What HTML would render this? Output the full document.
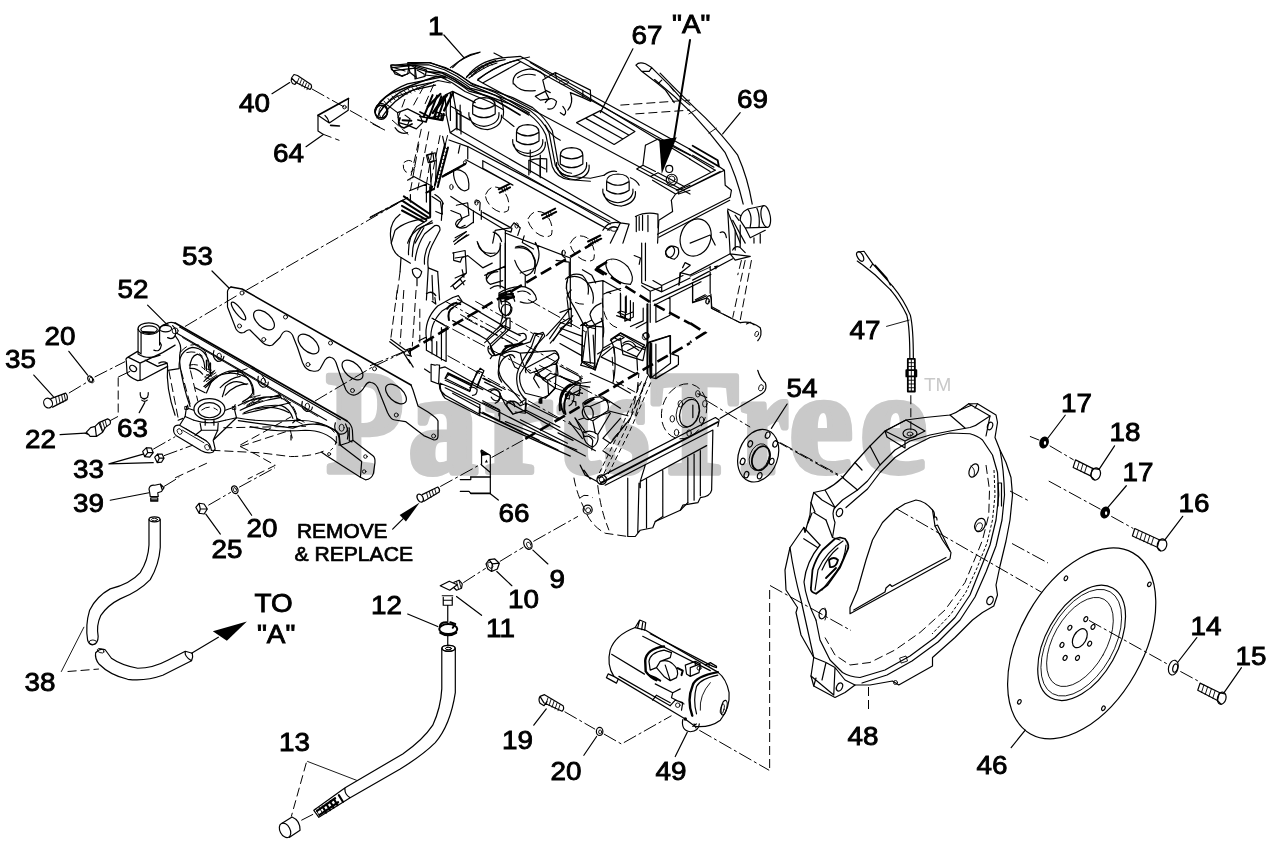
<!DOCTYPE html>
<html><head><meta charset="utf-8"><title>Engine parts diagram</title>
<style>
html,body{margin:0;padding:0;background:#fff;}
body{width:1280px;height:851px;overflow:hidden;}
svg{display:block;}
svg *{vector-effect:non-scaling-stroke;}
.lbl{font-family:"Liberation Sans",sans-serif;font-size:26.4px;fill:#000;stroke:#000;stroke-width:0.9px;}
.note{font-family:"Liberation Sans",sans-serif;font-size:20.5px;fill:#000;stroke:#000;stroke-width:0.7px;}
.wm{font-family:"Liberation Serif",serif;font-weight:bold;font-size:154px;fill:#c9c9c9;stroke:#c9c9c9;stroke-width:6px;stroke-linejoin:round;}
.tm{font-family:"Liberation Sans",sans-serif;font-size:19px;fill:#c9c9c9;}
.l{vector-effect:non-scaling-stroke;fill:none;stroke:#000;stroke-width:1.2;stroke-linecap:round;stroke-linejoin:round;}
.t{vector-effect:non-scaling-stroke;fill:none;stroke:#000;stroke-width:0.9;stroke-linecap:round;stroke-linejoin:round;}
.w{vector-effect:non-scaling-stroke;fill:#fff;stroke:#000;stroke-width:1.2;stroke-linejoin:round;}
.d{vector-effect:non-scaling-stroke;fill:none;stroke:#000;stroke-width:1;stroke-dasharray:14 3 3 3;}
.dd{vector-effect:non-scaling-stroke;fill:none;stroke:#000;stroke-width:1;stroke-dasharray:9 4;}
.hd{vector-effect:non-scaling-stroke;fill:none;stroke:#000;stroke-width:2.6;stroke-dasharray:12 5;}
.k{fill:#000;stroke:none;}
</style></head>
<body>
<svg width="1280" height="851" viewBox="0 0 1280 851">
<rect width="1280" height="851" fill="#fff"/>
<!-- ENGINE detail A: harness cluster (real coords) -->
<g id="EA">
<path class="l" d="M407.700,62.600 L429,62.600 L445.400,67.600 L458,74 L470.600,82.700 L483,87.700 L495.700,92.800 L508.300,100.300 L529.600,112.900"/>
<path class="l" d="M408,64.800 L428.500,64.800 L444.500,69.800 L457,76.200 L469.600,84.900 L482,89.900 L494.700,95 L507.300,102.500 L528.600,115.100"/>
<path class="l" style="stroke-width:1.600" d="M426,71.500 L442,73 L454.500,79.500 L467,88 L480,93.500 L492,98.500 L505,106 L520,115"/>
<path class="l" d="M424,75 L440,76.500 L452.500,83 L465,91.500 L478,97 L490,102 L503,109.500"/>
<path class="l" style="stroke-width:1.600" d="M375,112 Q378,100 392,93 L420.300,82 L436,76.500 L446,78"/>
<path class="l" d="M377,118 Q382,104 396,97 L422,86.500 L438,80.500 L450.400,83"/>
<path class="t" d="M384,101 l3,4 M388,98.500 l3,4 M392,96 l3,4 M396,94 l3,4 M400,92 l3,4 M404,90.500 l3,4 M408,89 l3,4 M412,87.500 l3,4 M416,86 l3,4"/>
<circle class="l" style="stroke-width:1.600" cx="381.300" cy="111.600" r="6.300"/>
<path class="l" style="stroke-width:2.400" d="M427.800,106.600 L440.400,94 M432.900,112.900 L444.200,96.500 M444.200,110.400 L453,92.800 M437,108 L447,95"/>
<path class="l" d="M390.700,65 L409,65.700 L407.700,74 L401.400,75.800 L391.400,69.500 Z M415,66.400 L426.600,70 L425,76.400 L415,79 Z M392,67 L405,71 M417,70 L424,74"/>
<path class="l" style="stroke-width:1.800" d="M400,118 Q396,126 404,128 L412,124 M420,112 L428,116 L426,122 L418,120 M436,112 l6,2 l-1,6 l-6,-2 z"/>
<path class="l" d="M450.400,92.800 V120.400 M450.400,106 L461,112 V134 M457,109.500 V130"/>
<path class="l" d="M450.400,67.600 Q463,57 479.400,52.500 M466.800,76.400 Q483.100,63.900 495.700,60.700 M478.100,78.900 Q503.200,61.300 529.600,57 M469,78 Q485,66 497,63"/>
<path class="t" d="M470,73 l2,3 M474,70 l2,3 M478,67.500 l2,3 M482,65.500 l2,3 M486,63.500 l2,3 M490,62 l2,3"/>
<path class="dd" d="M424,86 L412,108 M434,84 L425,104 M405,99 L398,118 M392,120 L410,136"/>
</g>
<!-- ENGINE detail B tile [370,140,610,300] zoom 1276 -->
<g id="EB" transform="translate(370,140) scale(0.188)">
<path class="l" d="M520,35 L1276,432 M600,110 L1220,450 L1276,480 M510,105 L760,240 M600,110 V150 L760,240 M845,110 V185 M905,105 V190 M940,100 V170 M845,110 Q880,95 940,100"/>
<path class="l" d="M445,160 Q470,150 505,175 Q530,200 525,260 Q500,285 470,250 Q440,210 445,160"/>
<path class="dd" d="M615,290 Q640,230 700,260 Q750,310 735,375 Q700,400 650,360 Q610,320 615,290 M840,420 Q870,360 930,390 Q980,440 965,505 Q930,530 880,490 Q840,450 840,420 M1065,550 Q1095,490 1155,520 Q1205,570 1190,635 Q1155,660 1105,620 Q1065,580 1065,550"/>
<path class="l" style="stroke-width:2" d="M400,185 L470,150 M685,262 L740,235 M690,280 L745,252 M915,400 L985,365 M920,418 L990,382 M1160,540 L1225,508 M1165,558 L1230,525"/>
<path class="t" d="M700,255 l8,22 M712,250 l8,22 M724,244 l8,22 M935,392 l8,22 M947,386 l8,22 M959,380 l8,22 M1180,532 l8,22 M1192,526 l8,22 M1204,520 l8,22"/>
<ellipse class="t" cx="433" cy="250" rx="9" ry="14"/><ellipse class="t" cx="566" cy="332" rx="9" ry="14"/><ellipse class="t" cx="780" cy="455" rx="9" ry="14"/><ellipse class="t" cx="1030" cy="600" rx="9" ry="14"/><ellipse class="t" cx="505" cy="120" rx="8" ry="10"/>
<path class="l" d="M720,480 V795 M550,375 V440 M592,375 V422 M430,375 L480,395 L490,420 Q470,440 460,460 Q480,475 510,465 L545,440 M430,300 L545,375 L720,480 L750,490 L755,470 L600,385"/>
<path class="l" d="M445,540 L510,490 M450,555 L515,505 M445,600 V640 L480,650 L490,625 L520,615 M520,615 L600,680 L650,655 M570,540 Q590,600 640,620 Q690,610 695,560 M655,490 Q690,500 700,540 M490,690 L500,730 M430,780 L480,740 L500,770"/>
<path class="l" d="M775,570 Q820,550 860,600 Q890,660 875,710 M770,640 Q790,700 830,720 M880,545 L895,575 M820,510 L810,545 L870,580 M1060,650 V720 M1060,650 L990,640 M1040,740 Q1080,700 1130,720 Q1170,760 1160,820 M1130,690 L1180,720 L1200,760"/>
<path class="l" d="M610,720 L720,670 M620,740 Q640,700 680,700 M640,790 Q680,760 720,790"/>
<!-- timing cover ear -->
<path class="l" d="M110,520 Q100,440 160,395 M110,520 Q115,600 165,625 L215,655 M205,610 Q200,520 250,460 L300,430 M225,620 Q225,530 270,470 L330,430 M240,640 Q250,560 290,500 L345,455 Q375,450 372,480 L330,560 Q300,620 310,680 L360,700 M290,660 Q285,600 320,540"/>
<path class="l" style="stroke-width:2" d="M180,300 L320,395 M175,325 L310,412 M170,350 L300,425 M170,375 L285,435 M320,250 V410 M300,280 L340,260"/>
<path class="l" d="M210,270 L300,235 L300,330 M215,290 L215,330 M330,300 L375,330 L385,395 L350,380 M345,290 Q380,310 390,340 M165,625 L160,700 M225,690 Q250,670 275,700 Q270,730 250,735 Q225,720 225,690 M250,735 V775 M310,680 L300,851 M360,700 L370,851 M330,720 L335,851"/>
<path class="dd" d="M160,700 L140,851 M260,20 L215,270 M330,60 L300,235 M180,120 Q220,90 240,140 Q230,180 190,170 Q170,150 180,120"/>
<path class="l" style="stroke-width:2" d="M400,20 L345,240 M415,40 L360,250"/>
<path class="t" d="M395,40 l14,6 M390,60 l14,6 M385,80 l14,6 M380,100 l14,6 M375,120 l14,6 M370,140 l14,6 M365,160 l14,6 M360,180 l14,6 M355,200 l14,6 M350,220 l14,6"/>
<path class="l" d="M300,80 L335,70 L340,110 L310,120 Z M420,0 L520,35 V100 M480,20 L470,70"/>
<path class="l" style="stroke-width:2.200" d="M1200,690 L1225,670 M1200,690 L1240,715"/>
<path class="d" d="M0,410 L190,310"/>
</g>
<!-- ENGINE detail C tile [370,290,610,450] zoom 1276 -->
<g id="EC" transform="translate(370,290) scale(0.188)">
<path class="d" d="M330,150 L1100,560 M400,60 L1130,460 M480,130 L760,285 M560,60 L900,250 M840,50 L1160,230 M900,400 L1276,600"/>
<path class="l" d="M610,280 L715,190 L745,205 L645,300 M680,205 L730,150 L745,150 L745,205 M705,150 V130 Q690,100 710,80 Q740,70 755,95 Q755,125 735,135 M700,75 L690,40 L760,30 L770,60"/>
<path class="l" style="stroke-width:2.200" d="M690,30 L760,20 M700,45 L765,38 M720,300 L810,285 M705,330 Q720,300 760,295"/>
<path class="l" d="M630,300 Q620,330 650,350 L700,340 L830,260 Q835,235 815,230 L790,235 M650,350 L640,365 M690,400 Q670,450 700,490 M690,400 Q700,360 740,345 L770,410 L790,420 L810,380 L860,300 L880,240 L920,225 L930,245 L880,300 L830,390 M740,345 Q760,340 770,360"/>
<path class="l" d="M790,420 Q770,470 790,530 Q810,570 830,580 L825,640 L760,660 L730,620 Q720,590 750,590 Q770,600 770,620 M830,580 L800,600 M830,440 Q820,420 840,410 L980,335 Q1005,340 1005,365 L960,400 L880,450 L870,470 M880,450 L945,480 L1000,450 L995,400 M945,480 L950,560 L905,580 L900,600 M950,560 L985,520 M870,470 L900,520"/>
<path class="l" d="M955,260 L1010,180 L1060,150 L1075,165 L1020,200 L975,270 M1060,150 L1050,60 Q1040,30 1070,0 M1120,190 L1180,160 L1200,190 L1195,390 L1130,380 L1150,220 M1195,390 L1190,420 M1130,380 L1120,400 L1190,420 M1210,340 L1276,300 M1180,160 L1170,130 Q1180,90 1230,70 M1230,150 Q1250,200 1240,250"/>
<!-- flywheel-side crank seal arcs -->
<path class="l" style="stroke-width:2" d="M1010,640 Q1000,570 1050,520 L1090,495 M1040,660 Q1020,600 1055,550"/>
<path class="l" d="M1090,495 L1130,470 M1060,560 L1120,530 M1130,640 Q1140,610 1170,620 Q1195,640 1185,680 Q1160,700 1140,680 Q1125,660 1130,640 M1170,620 L1250,585 M1185,680 L1276,650 M1090,680 L1150,760 M1060,700 L1130,790 M1140,780 Q1170,770 1185,800 L1180,851 M1110,690 L1140,680 M1100,560 Q1110,540 1130,550 M1040,555 l20,5 l0,20 l-20,-5 z M1075,590 l20,5 l0,20"/>
<!-- pan rail / lower block -->
<path class="l" d="M370,400 Q355,395 345,400 L325,395 L325,485 L365,500 L370,400 M370,500 Q365,540 400,560 L580,660 L585,610 L400,520 M400,470 L420,450 L540,510 L530,540 L400,480 M540,510 L570,430 L600,440 L570,520 M530,520 Q550,510 570,530 Q570,560 545,560 M415,440 L600,530 M600,470 L640,490 M610,490 L700,535 M640,540 Q660,520 685,540 Q700,570 680,590 Q655,590 645,570 M690,550 L720,610 L760,660 M585,650 L690,700 L690,640 L600,600 M690,700 L1000,851 M600,650 L900,800 M720,700 L1100,851 M800,690 L1050,815 M400,560 L380,540"/>
<path class="l" d="M830,640 L1010,730 M825,600 L1010,690 M900,600 V580 M1000,760 L1080,800"/>
<path class="k" d="M905,575 l12,0 l0,30 l-12,0 z"/>
<!-- timing cover lower -->
<path class="dd" d="M145,0 L110,262 M245,0 L225,300 M180,0 L160,290 M265,100 V280"/>
<path class="l" d="M110,262 L190,320 M105,275 L185,335 M300,260 Q285,160 360,85 L440,40 M325,270 Q315,180 385,110 L460,65 M300,250 V320 M330,262 V340 M355,275 V350 M380,200 V372 M405,190 V380 M300,320 L405,380 M260,270 L300,250 M380,215 L405,205 M330,150 L400,190 M190,320 L215,310 L215,350 L195,345 M205,370 l25,40 M290,420 L320,440"/>
<path class="l" d="M440,40 L470,30 L490,60 L440,95 M330,60 L350,75 L345,40 M300,20 Q330,0 350,30"/>
<path class="l" style="stroke-width:2" d="M410,100 Q440,60 480,75 M420,160 Q410,110 440,95"/>
</g>
<!-- MANIFOLD detail tile [150,330,390,490] zoom 1276 -->
<g id="MB" transform="translate(150,330) scale(0.188)">
<path class="l" d="M155,205 Q150,110 225,92 Q300,95 318,190 L322,240 M212,205 Q212,140 252,128 Q288,135 292,205 M95,215 L155,205 M212,205 Q250,200 280,235 M300,160 V215 M322,175 V230"/>
<path class="t" d="M290,250 L345,215 M295,262 L350,227 M300,274 L355,239 M305,286 L360,251 M285,300 L340,265"/>
<path class="l" d="M300,335 L332,262 Q420,200 520,255 Q555,290 552,345 M385,355 L402,300 Q450,255 512,290 M332,262 L290,300 M420,225 L470,215 L465,240"/>
<path class="l" d="M470,402 Q560,350 680,355 Q760,380 782,472 M500,440 Q600,392 700,402 Q745,420 760,470 M640,360 L690,345 L700,365"/>
<path class="t" d="M490,385 L545,350 M500,395 L560,358 M515,400 L575,362 M530,405 L590,368 M770,480 L810,500 M780,470 L820,490"/>
<path class="l" d="M470,482 L760,522 Q900,470 1000,545 M560,420 Q660,395 740,440"/>
<path class="dd" d="M390,520 L830,512 M480,612 L750,462 M880,495 Q960,500 990,560 Q1000,610 960,640 M100,215 L150,470 M165,215 L215,400 M215,215 L255,380"/>
<path class="l" d="M150,480 L175,470 M750,560 V585"/>
<path class="l" d="M1040,500 Q1060,540 1050,580 M1060,520 V590 L1075,595"/>
</g>
<!-- ENGINE detail D tile [560,280,720,400] zoom 1135 -->
<g id="ED" transform="translate(560,280) scale(0.141)">
<path class="l" d="M660,150 L1070,-40 M682,172 L1000,12 M580,40 L640,80 L720,50 M640,80 V160 M590,200 V290 M620,200 V296 M640,170 V300 M680,190 V300 M780,120 V250 M590,290 L500,330 M620,296 L540,340 M680,300 L780,250"/>
<path class="l" d="M430,100 V220 M470,112 V232 M520,160 V262 L460,292 L460,250 L410,230 M410,230 L430,220 L470,232 M460,250 L520,225 M330,90 L430,60 M310,100 Q340,80 360,95"/>
<path class="dd" d="M55,0 Q30,60 60,120 Q110,180 185,170 M300,130 Q300,230 340,290 Q370,330 410,340"/>
<path class="l" d="M150,320 L300,332 M160,330 L155,582 L250,640 L272,560 M180,300 Q200,340 250,345 M235,390 L250,640 M0,340 L160,400 M0,385 L170,470 M0,300 L80,330 L80,200 L0,230 M150,320 L180,300 M0,450 L160,540"/>
<path class="l" d="M360,420 L430,375 L600,462 L545,545 L380,472 Z M385,410 L420,390 L455,408 L420,428 Z M440,470 Q470,440 500,460 L560,500 M480,500 L540,470 L600,495 M545,545 L550,640 M380,472 L385,520 M290,545 L380,472 M290,545 L540,665"/>
<ellipse class="t" cx="608" cy="398" rx="22" ry="28" transform="rotate(25 608 398)"/>
<path class="l" d="M630,440 L780,395 V520 L840,540 V600 L680,700 L640,690 Z M680,455 V700 M650,450 V690 M690,690 L830,610"/>
<path class="dd" d="M370,545 L382,712 L545,802 L560,660"/>
<path class="l" d="M940,20 V160 L1040,112 M1070,100 L1076,190 L1135,222 M960,140 L1030,105"/>
<ellipse class="t" cx="1046" cy="150" rx="11" ry="20" transform="rotate(20 1046 150)"/>
<path class="l" d="M0,610 L150,690 M0,680 L120,745 M140,690 L150,720 M100,740 L210,760 M40,851 Q50,780 120,740"/>
</g>
<!-- WATERMARK -->
<!-- PARTS -->
<g id="parts">
<!-- BELL HOUSING 48 real coords -->
<g id="bell">
<path class="l" d="M813.750,492.500 L825,490 Q835,485 842.500,477.500 L855,462.500 L870,446 L885,431 L906,420 L925,417.500 L950,415 Q956,413 960,410 L968.750,403.750 L977.500,403.750 L996,415 L997.500,422.500 L995,437.500 L1000,450 L1006,462.500 L1011,477.500 L1012.500,495 L1010,520 L1006,541 L1000,566 L996,585 L997.500,595 L993.750,606 L982.500,612.500 L972.500,620 L955,637.500 L932.500,657.500 L932.500,666 L898.750,685 L892.500,681 L870,685 L855,685 L845,692.500 L835,697.500 L813.750,686 L811,676 L813.750,657.500 L801,635 L796,612.500 L797.500,607.500 L786,590 L785,570 L790,547.500 L803.750,527.500 L805,532.500 L810,515 L811,502.500 Z"/>
<!-- front edge of top wall -->
<path class="l" d="M835,507.500 L842.500,500 L857.500,490 L867.500,481 L880,465 L895,450 L910,441 L930,435 L950,431 L970,427.500 Q976,426 980,422.500 L990,416"/>
<path class="l" d="M846,507.500 L857.500,497.500 L867.500,489 L880,472.500 L895,457.500 L910,447.500 L930,437.500 L950,433 L970,433.750 Q978,436 982.500,440 L992.500,455 L997.500,472.500 L998.750,495 L996,520 L990,545 L980,570 L970,595 L955,617.500 L935,637.500 L910,656 L885,670 L860,677.500 Q850,677 842.500,672.500 L830,660 L820,640 L816,620"/>
<path class="l" d="M1000,450 Q1004,470 1004.500,495 L1002,520 L996,546 L986,572 L975,597 L960,620 L938,642 L912,661 L887,675 L862,683"/>
<path class="dd" d="M986,465 L989.500,490 L988.750,515 L982.500,540 L977.500,552.500 L965,582.500 L945,610 L920,632.500 L895,650 L870,662.500 L850,665 L835,655 L825,637.500"/>
<path class="dd" style="stroke-dasharray:3 2" d="M994,470 L995,495 L992.500,520 L987,543 L977,568 L966,592 L951,614 L932,634"/>
<path class="l" d="M998,483 V506 M1001.500,483 V506 M998,483 H1001.500"/>
<!-- wall ribs top-left -->
<path class="l" d="M825,490 L835,507.500 M842.500,477.500 L857.500,490 M855,462.500 L862,470 M870,446 L880,465 M950,415 L965,428 M960,410 L972,405 M968.750,403.750 L990,416 L986,436 M977.500,403.750 L975,408"/>
<path class="d" d="M775,440.500 L838,475.500"/>
<!-- left lug / wall -->
<path class="l" d="M835,507.500 Q831,512 835,522.500 L832.500,537.500 L840,540 M813.750,492.500 L822,500 L835,507.500 M813.750,512.500 L826,520 M803.750,527.500 L820,545 M803.750,538.750 L817.500,547.500 M811,502.500 L815,512 M808,523 L812,513"/>
<path class="l" d="M820,545 Q806,562 804,582 Q806,600 816,620 M826,520 L832.500,537.500 M790,547.500 Q794,575 801,600 L813.750,657.500"/>
<!-- left window -->
<path class="l" style="stroke-width:1.800" d="M840,537.500 L845,538.750 Q850,545 847.500,550 L840,567.500 L827.500,585 L816,593.750 Q810,592 811,587.500 L812.500,570 Q816,558 822.500,550 L835,538.750 Z"/>
<path class="l" d="M843,541 Q826,552 818,570 L815,590 M846,545 Q845,560 836,572 L822,590 M838,548 Q828,556 822,570"/>
<path class="l" style="stroke-width:1.800" d="M829,560 Q834,556 838,560 Q836,568 830,567 Z M826,578 L836,568"/>
<!-- bottom-left lug -->
<path class="l" d="M813.750,657.500 L826,662.500 L835,667.500 L833.750,695 M826,662.500 L822,680 M811,676 L833.750,695 M835,667.500 L845,680 L855,685 M813.750,686 L816,678"/>
<!-- opening -->
<path class="l" d="M932.500,510 Q925,501 916,500 L905,503.750 L895,510 L882.500,522.500 L872.500,540 L866,560 L857.500,590 L850,607.500 L850,613.750 L950,558.750 L951,552.500 L942.500,540 L935,526 Z"/>
<path class="l" d="M853.750,610 L885,592 L886,588 L890,584.500 L892,586.500 L946,557.500 M935,526 L937.500,525 L950,551"/>
<path class="l" d="M932.500,510 q3,3 1.500,8 M934,517 q3,-1 3,3"/>
<!-- holes -->
<ellipse class="l" cx="990" cy="426" rx="2.500" ry="4" transform="rotate(20 990 426)"/>
<ellipse class="l" cx="839.500" cy="512.500" rx="3" ry="4.300" transform="rotate(20 839.5 512.5)"/>
<ellipse class="l" cx="973.750" cy="470.500" rx="4.300" ry="7" transform="rotate(25 973.75 470.5)"/><path class="t" d="M971,466 q5,3 3,10"/>
<ellipse class="l" cx="980" cy="525" rx="5" ry="7" transform="rotate(25 980 525)"/><ellipse class="t" cx="979" cy="527" rx="3" ry="4.500" transform="rotate(25 979 527)"/>
<ellipse class="l" cx="990" cy="600.500" rx="3" ry="4.300" transform="rotate(25 990 600.5)"/>
<ellipse class="l" cx="839.500" cy="687" rx="2.800" ry="4.300" transform="rotate(25 839.5 687)"/>
<ellipse class="l" cx="822.500" cy="613.750" rx="3.300" ry="5.200" transform="rotate(15 822.5 613.75)"/><path class="t" d="M825,608 q3,5 0,12"/>
<path class="t" d="M900,658 l6,-2 l1.500,5 l-6,2 z"/><circle class="t" cx="895.500" cy="682.500" r="2"/>
<!-- sensor boss -->
<path class="l" d="M885,431 L906,420 L925,431 L905,441 Z M885,431 L887,437 L905,448 L905,441"/>
<ellipse class="l" cx="910" cy="433.500" rx="7" ry="4.500"/><ellipse class="t" cx="910" cy="434" rx="3" ry="2"/>
<!-- center lines -->
<path class="d" d="M896,508.500 L1042,592.500 M1012,543.500 L1048,563 M770,585.500 L851,630.500 M1010,491 L1030,501.500"/>
<path class="dd" d="M868.500,687 V710"/>
</g>

<!-- SCREW 40 / BRACKET 64 (real coords) -->
<g id="b64">
<path class="l" d="M272,93.700 L289.700,82.600 M306,146.700 L323,134.800"/>
<path class="l" d="M291.500,78 L294,74.500 L297.500,75.500 L311,84.500 Q312.500,87.500 310,89.500 L296,82.500 Z M291.500,78 Q290.500,81 292.500,83.500 L295,84.500 L296.500,82"/>
<path class="t" d="M299,78 l-2,5 M301.500,79.700 l-2,5 M304,81.300 l-2,5 M306.500,83 l-2,5 M309,84.700 l-2,5"/>
<path class="d" d="M312,89 L345,107.500 M350,110.500 L380,127.400"/>
<path class="l" style="stroke-width:1.700" d="M318,115.300 L348.500,98.500"/>
<path class="l" d="M318,115.300 V131 L323,134.200 M318,115.300 L329.300,122.900 L348.200,110.300 M348.500,98.500 L348.200,110.300 M325,115.500 Q328,118 329.300,122.900"/>
<path class="dd" d="M323,134.200 L339.400,140.400"/>
<path class="l" style="stroke-width:1.600" d="M330.600,125.400 L339.400,126"/>
<circle class="t" cx="344.400" cy="107.100" r="1.800"/>
</g>
<!-- tile [200,160,520,373] long lines + timing cover ear -->
<g id="T6" transform="translate(200,160) scale(0.2504)">
<path class="d" d="M-60,665 L150,540 M185,520 L830,150 M700,822 L830,760"/>
</g>

<!-- ENGINE E5 tile [480,380,800,593] @4x oil pan -->
<g id="E5" transform="translate(480,380) scale(0.2504)">
<path class="l" style="stroke-width:1.8" d="M482,412 L950,168"/>
<path class="l" d="M470,392 L940,150 L955,160 L950,185 M500,420 L930,200 M930,200 L925,440 Q920,465 880,470 L870,490 L810,500 L800,520 L700,565 L690,590 L640,600 L620,625 L590,625 M590,392 V625 M635,412 L630,610 M665,395 V590 M730,362 V545 M830,310 V490 M855,296 V480 M880,282 V462 M640,405 L905,262 M660,340 L640,405 M640,405 V430"/>
<path class="l" d="M700,565 L730,545 M800,520 L830,490"/>
<circle class="l" cx="486" cy="398" r="19"/><circle class="t" cx="486" cy="398" r="10"/>
<circle class="l" cx="430" cy="518" r="18"/><circle class="t" cx="432" cy="520" r="10"/>
<path class="dd" d="M375,390 Q385,450 415,510 Q440,580 500,612 L590,625 M470,420 Q480,500 500,560 L515,600 M400,470 Q420,450 450,470"/>
<path class="l" d="M468,405 L420,380 L400,340 M440,395 L415,360"/>
<!-- crank flange on engine -->
<g transform="rotate(18 815 125)"><ellipse class="dd" cx="815" cy="125" rx="88" ry="112"/><ellipse class="l" cx="838" cy="125" rx="38" ry="56"/><ellipse class="t" cx="830" cy="125" rx="44" ry="62"/></g>
<g class="t">
<ellipse cx="870" cy="55" rx="9" ry="13"/><ellipse cx="898" cy="95" rx="9" ry="13"/><ellipse cx="885" cy="160" rx="9" ry="13"/><ellipse cx="835" cy="212" rx="9" ry="13"/><ellipse cx="785" cy="210" rx="9" ry="13"/><ellipse cx="768" cy="155" rx="9" ry="13"/><ellipse cx="800" cy="95" rx="9" ry="13"/>
</g>
<path class="l" d="M870,55 L905,70 M850,100 V150"/>
<!-- belt double dashed -->
<path class="dd" style="stroke-dasharray:5 3" d="M645,5 L560,200 L470,385 M682,10 L600,200 L505,390 M663,8 L580,200 L488,388"/>
<!-- line to rear plate hole -->

</g>

<!-- ENGINE E4 tile [610,200,930,413] @4x (only right part) -->
<g id="E4" transform="translate(610,200) scale(0.2504)">
<ellipse class="l" cx="342" cy="150" rx="60" ry="76" transform="rotate(20 342 150)"/>
<ellipse class="l" cx="240" cy="207" rx="17" ry="23" transform="rotate(20 240 207)"/>
<path class="l" d="M320,172 L400,140 L420,180 M480,215 L320,300 M490,235 L330,320 M400,265 V372 M330,338 V410 L385,392 M320,300 L280,290 L275,340 M290,270 L300,250 L320,260"/>
<path class="k" d="M415,265 l18,-4 l-10,18 z"/>
<path class="t" d="M320,305 L400,268"/>
<path class="l" d="M470,40 L480,215 L560,225 M480,215 L500,240 L560,225 M440,130 Q460,120 465,150 M490,200 Q500,180 520,190 L540,210 M500,120 V200 M520,100 V190"/>
<path class="dd" d="M540,240 L490,470 M565,240 L520,480 M525,240 L510,300"/>
<path class="l" d="M385,392 Q400,370 405,395 L405,432 L520,490"/><path class="dd" d="M405,432 L520,490"/>
<path class="l" d="M520,490 Q560,480 600,510 Q610,540 590,562 M545,495 L560,488 L575,498"/>
<ellipse class="t" cx="390" cy="405" rx="7" ry="11"/><ellipse class="t" cx="586" cy="535" rx="7" ry="11" transform="rotate(20 586 535)"/>
<path class="l" d="M590,680 Q600,715 620,730 Q630,760 605,775 L440,872"/>
<ellipse class="t" cx="603" cy="750" rx="9" ry="13" transform="rotate(20 603 750)"/>
<path class="hd" d="M320,492 L380,530 L320,568"/>
</g>

<!-- ENGINE E3 tile [370,243,690,456] @4x -->
<g id="E3" transform="translate(370,243) scale(0.2504)">
<!-- heavy phantom lines -->
<path class="hd" d="M155,432 L885,5 M620,782 L1105,498 L1278,400 M905,100 L1125,240 L1278,322 M905,100 L965,65"/>
<path class="l" style="stroke-width:2" d="M1108,245 V520"/>
<path class="k" d="M440,828 L480,845 L445,851 Z"/>
<path class="d" d="M0,490 L150,428"/>
<path class="l" d="M150,428 l15,25 M135,440 l25,40"/>
<!-- block face -->
<path class="l" d="M540,0 V300 M520,0 V180 M330,40 L380,30 L385,120 L340,140 M340,60 L375,55 M385,120 L330,170 L340,185 L380,150 M430,0 Q440,50 500,40 M470,120 L540,95 M470,120 Q455,150 480,165 L530,150 M800,60 V260 M800,60 L540,-40 M660,0 Q690,40 660,100 L600,120"/>
<path class="l" d="M580,20 Q640,10 660,70 Q660,120 625,130 M620,130 V175 M770,30 Q760,50 780,60"/>
<path class="l" d="M1085,0 V160 L1165,195 V170 L1130,150 M1100,0 V150 M1165,195 L1278,140 M1180,35 Q1200,0 1230,20 Q1240,50 1215,65 Q1185,60 1180,35 M1278,90 L1240,120 L1235,165 M1165,170 L1250,130"/>
<path class="l" d="M945,70 Q985,50 1030,95 Q1060,140 1040,165 Q990,165 955,120 Q935,90 945,70 Z M1055,50 L1080,60 L1075,85"/>
<path class="l" d="M790,140 Q830,120 870,160 Q900,200 890,240 M790,140 Q775,180 800,230 Q830,280 850,320 L870,340 M870,160 L930,150 V310 L870,340 M930,150 L1000,190 M1000,200 V290 L1040,310 V230 M1020,215 V300 M985,290 L1040,310"/>
<!-- crank and webs -->
<path class="l" d="M515,200 Q560,170 620,175 Q660,190 665,225 Q640,250 600,235 M515,200 L525,235 Q545,225 560,245 Q570,275 545,290 Q520,285 515,255 Z M590,195 Q620,185 640,205"/>
<path class="l" style="stroke-width:2" d="M520,205 L560,190 L575,215 L540,228"/>
<path class="l" d="M530,290 L520,330 L465,385 L480,405 L540,350 L545,300 M480,405 L500,450 L580,415 L640,395 L655,360 L690,365 L640,460 L600,520 M500,450 Q480,430 480,405 M520,330 L600,370 M465,385 L440,370 L330,310 M410,260 L530,330 M350,225 L440,275"/>
<path class="l" d="M520,450 Q560,420 600,440 L740,430 Q765,450 745,480 L640,520 Q610,500 600,440 M520,450 Q500,520 540,560 Q580,600 610,640 M600,520 Q590,560 620,600 L700,620 L740,580 L690,545 L660,500 M740,580 L745,480 M690,545 L720,520 L840,560 L835,610 L740,580"/>
<path class="l" d="M705,370 L760,310 L800,260 M720,400 L775,335 L810,290 M850,320 L845,470 L900,500 L930,420 L930,310 M870,340 L880,480 M930,420 L1000,380 M960,390 L1000,360 L1100,420 L1090,470 L1010,445 L1000,380 M1010,400 Q1040,380 1060,410 M1100,420 L1108,400 L1200,370 L1200,480 L1120,540 L1108,520 M1120,395 V540 M1090,365 Q1110,350 1115,375 Q1100,395 1090,365"/>
<path class="l" d="M975,420 Q985,500 970,560 L1040,600 M970,560 L880,520"/>
<!-- starter-side cylinder / oil filter area -->
<path class="l" style="stroke-width:2" d="M760,640 Q755,590 800,565 M775,680 Q750,640 770,600"/>
<path class="l" d="M800,565 L880,555 M780,605 Q800,590 815,610 Q815,640 795,650 M850,640 Q880,610 930,615 Q960,640 950,670 L890,710 Q855,700 850,640 M930,615 L1000,660 M950,670 L1030,690 M850,760 Q880,740 910,765 Q915,800 890,815 Q855,805 850,760 M820,700 L855,770 M890,710 L900,760 M910,765 L960,680"/>
<!-- pan rail -->
<path class="l" d="M280,500 L300,495 L900,830 M280,560 L330,580 L860,851 M300,540 L400,590 L405,560 L440,500 L455,510 L425,575 M300,540 L310,520 L395,560 M440,660 L438,690 L300,620 Q280,600 280,560 M440,660 L330,600 M455,540 L540,585 M470,590 Q500,570 520,600 Q525,630 500,640 M550,640 Q575,620 600,650 L625,640 L620,680 L580,675 M440,690 L800,851 M515,690 V665 L450,630 M680,620 V640"/>
<path class="d" d="M310,450 L900,780 M380,300 L600,420"/>
<!-- right: rear plate dashed -->
<path class="dd" d="M1110,530 L1040,700 L930,830 M1095,560 L1060,690 M1075,560 L1045,680"/>
<path class="l" d="M1040,700 L960,800 L930,780 L1000,700 M930,830 L960,851"/>
</g>

<!-- ENGINE E2 tile [610,30,930,243] @4x -->
<g id="E2" transform="translate(610,30) scale(0.2504)">
<!-- hose 69 -->
<path class="l" d="M200,172 Q300,275 380,350 Q450,420 510,500 Q550,590 568,695 M178,198 Q260,265 330,335 Q400,410 460,490 Q505,580 532,695"/>
<path class="t" d="M315,335 L345,318 M395,412 L425,392 M240,225 L255,245"/>
<path class="l" d="M520,330 L450,415"/>
<!-- cover right end -->
<path class="l" style="stroke-width:1.8" d="M318,476 L435,545 L430,520 L330,462"/><path class="l" d="M318,498 L420,560 M318,515 L400,565"/>
<path class="l" d="M435,545 L457,560 L460,620 L485,640 L480,668 L190,816 M457,560 L262,655 L245,680 M420,560 L265,640 M478,680 L195,828 M330,500 L415,548 M262,655 L170,600 M440,565 L275,648"/>
<path class="l" d="M245,680 L250,725 M250,725 L195,760 L190,851 M130,740 V800 M105,745 V805"/>
<!-- thermostat outlet -->
<ellipse class="l" cx="622" cy="745" rx="18" ry="44" transform="rotate(-10 622 745)"/>
<path class="l" d="M612,702 L550,715 Q520,730 520,760 L540,790 L625,788 M550,715 Q570,740 560,785 M585,708 Q600,740 595,788 M520,740 L470,715 M540,790 L560,830 L620,800 M575,830 V851 M600,815 V851 M470,725 L520,851 M490,760 L540,851 M500,740 L515,760"/>

</g>

<!-- ENGINE E1 tile [370,30,690,243] @4x -->
<g id="E1" transform="translate(370,30) scale(0.2504)">
<path class="l" d="M295,20 L375,110 M1050,75 L920,330"/>
<!-- cover left arcs and back edges -->
<path class="l" d="M330,150 Q370,100 440,88 M385,190 Q430,125 520,112 L600,105 L1278,476 M495,92 L530,110 M430,200 Q500,140 590,120 L1278,498 M405,185 Q450,130 540,118"/>
<path class="l" d="M430,200 L450,212 L600,128 M450,212 L1278,655 M640,130 L1278,515"/>
<!-- oil cap -->
<path class="l" d="M572,215 Q565,165 640,155 Q690,160 700,190 M575,215 Q600,250 660,242 M590,190 Q620,170 660,180"/>
<!-- pcv box -->
<path class="l" d="M690,200 L740,170 L880,240 L882,285 L850,270 L800,250 M690,200 L700,240 L720,250 M740,170 L745,195 M660,265 L700,245 L715,275 L680,280 Z M700,290 Q720,260 745,285 Q740,320 710,315 M770,305 Q790,330 775,340 L760,330 M800,250 Q815,290 790,320 M850,240 L850,270"/>
<ellipse class="t" cx="775" cy="208" rx="18" ry="9"/>
<!-- label rect -->
<path class="l" d="M825,370 L920,322 L1058,405 L975,457 Z M860,352 L1010,435 M890,338 L1035,420"/>
<!-- dashed leader lines to 69 -->
<path class="dd" d="M1000,300 L1278,280 M1060,335 L1278,320"/>
<!-- tube at top right -->
<path class="l" d="M1062,140 Q1075,125 1100,135 L1125,150 L1115,165 L1085,165 Z M1125,150 L1200,225 L1240,270 L1278,300 M1085,165 L1150,215 L1180,240 M1150,215 L1165,200 M1180,240 L1215,290"/>
<!-- arrow A -->
<path class="l" style="stroke-width:2" d="M1278,40 L1215,430"/>
<path class="k" d="M1165,575 L1155,440 L1225,428 Z"/>
<!-- breather box -->
<path class="l" d="M1100,460 L1150,435 L1278,500 M1100,460 L1090,540 L1065,555 L1120,585 L1150,570 M1090,540 L1140,565 M1120,585 L1230,640 L1278,620 M1150,570 L1255,625 M1230,640 L1232,655 L1278,640"/>
<circle class="l" cx="1205" cy="598" r="22"/><circle class="t" cx="1205" cy="596" r="13"/><circle class="l" cx="1195" cy="555" r="14"/>
<!-- coils -->
<g id="coilA">
<path class="l" d="M410,300 Q410,272 455,270 Q500,272 500,300 L500,335 Q455,365 410,335 Z M410,300 Q455,330 500,300"/>
<path class="l" d="M395,330 Q390,375 455,385 Q520,375 515,330 M400,350 Q410,395 470,398 Q530,385 525,340"/>
</g>
<g transform="translate(175,108)">
<path class="l" d="M410,300 Q410,272 455,270 Q500,272 500,300 L500,335 Q455,365 410,335 Z M410,300 Q455,330 500,300"/>
<path class="l" d="M395,330 Q390,375 455,385 Q520,375 515,330 M400,350 Q410,395 470,398 Q530,385 525,340"/>
</g>
<g transform="translate(350,200)">
<path class="l" d="M410,300 Q410,272 455,270 Q500,272 500,300 L500,335 Q455,365 410,335 Z M410,300 Q455,330 500,300"/>
<path class="l" d="M395,330 Q390,375 455,385 Q520,375 515,330 M400,350 Q410,395 470,398 Q530,385 525,340"/>
</g>
<g transform="translate(535,305)">
<path class="l" d="M410,300 Q410,272 455,270 Q500,272 500,300 L500,335 Q455,365 410,335 Z M410,300 Q455,330 500,300"/>
<path class="l" d="M395,330 Q390,375 455,385 Q520,375 515,330 M400,350 Q410,395 470,398 Q530,385 525,340"/>
</g>
<!-- wiring harness -->
<path class="l" d="M90,150 L180,140 L300,172 Q360,200 400,232 L470,250 L560,282 L640,322 Q690,360 715,410 L740,540 Q760,580 800,585 L880,592 L935,580"/>
<path class="l" d="M95,162 L180,152 L295,184 Q355,212 395,244 L465,262 L555,294 L632,334 Q680,370 702,418 L728,545 Q745,592 798,598 L880,604"/>
<path class="l" d="M150,135 L240,130 L320,160 Q370,185 410,218 L480,238 L570,270 L650,310 Q700,350 728,402 L752,535 Q770,570 805,572"/>
<path class="l" d="M20,320 Q60,250 150,215 L250,195 L300,185 M35,335 Q75,265 160,228 L255,208 M50,345 Q90,280 170,240 L262,220"/>
<path class="l" d="M520,268 Q540,320 530,350 L575,385 M700,380 Q720,420 760,440 M935,580 Q960,560 985,565 M1040,590 Q1065,600 1075,620"/>
<!-- left connector cluster -->
<path class="l" d="M85,150 Q80,135 100,140 L150,135 L160,170 L130,185 L100,175 Z M150,135 L180,150 L185,190 L160,170"/>
<ellipse class="l" cx="45" cy="325" rx="25" ry="32"/><ellipse class="t" cx="52" cy="328" rx="16" ry="24"/>
<path class="l" d="M70,300 L110,330 L115,370 L150,380 L160,355 L140,340 M110,330 L150,315 L200,340 L210,370 L185,395 L150,380 M100,390 Q120,420 150,410"/>
<path class="l" style="stroke-width:2" d="M215,345 L250,260 M235,350 L268,262 M255,352 L285,265 M272,350 L300,268 M200,345 L290,360 L295,335 M130,360 L165,362"/>
<path class="l" d="M300,260 L330,245 L345,330 L345,392 L320,410 M300,260 L305,340 L320,410 M330,245 L420,290 M345,330 L400,360 M345,392 L1000,770 M320,410 L960,775 M360,300 V400 M300,340 L240,350"/>
<!-- cover front face verticals -->
<path class="l" d="M640,480 V570 M680,500 V590 M635,520 L700,555 M1075,745 V800 M1110,740 V805 M1150,735 V790 M1060,745 Q1100,725 1150,735"/>
<!-- timing cover top / bracket -->
<path class="dd" d="M205,395 L160,600 M235,405 L190,640 M280,420 L240,620 M310,420 L255,640"/>
<path class="l" d="M230,500 L260,490 L265,520 L240,530 Z M240,530 L245,640 M265,520 L262,600 M290,425 L300,470 M150,600 L175,585 L250,625 L240,650"/>
<path class="l" style="stroke-width:2.2" d="M290,585 L380,535"/>
<path class="l" d="M0,750 L150,670"/>
<path class="l" d="M240,750 Q140,760 100,800 L85,851 M250,770 Q170,790 150,851 M290,690 L285,760 M180,851 L215,790"/>
<!-- head front: ports and studs -->
<path class="l" d="M345,700 L390,690 L395,740 L350,760 M350,760 Q330,780 360,790 L380,780 M420,690 Q430,670 440,690 L438,720 M340,830 L385,805 M350,845 L395,818"/>
<path class="l" d="M490,851 L500,800 L560,790 L575,770 L600,790 L590,820 M930,800 Q950,760 1000,770 L1035,775 L1010,851 M950,800 Q960,780 990,790 M960,851 L1000,770"/>
<ellipse class="t" cx="975" cy="795" rx="14" ry="9"/>
<!-- arrows/dash marks near 40 line -->
<path class="d" d="M10,375 L60,400"/>
</g>

<!-- FLANGE 54 tile [640,360,960,573] @4x -->
<g id="flange54" transform="translate(640,360) scale(0.2504)">
<g transform="rotate(20 472 382)">
<ellipse class="l" cx="472" cy="382" rx="78" ry="108"/>
<ellipse class="l" style="stroke-width:1.8" cx="486" cy="388" rx="34" ry="50"/>
<ellipse class="t" cx="478" cy="386" rx="38" ry="55"/>
</g>
<g class="l">
<ellipse cx="510" cy="300" rx="9" ry="13" transform="rotate(20 510 300)"/>
<ellipse cx="540" cy="335" rx="9" ry="13" transform="rotate(20 540 335)"/>
<ellipse cx="526" cy="405" rx="9" ry="13" transform="rotate(20 526 405)"/>
<ellipse cx="478" cy="462" rx="9" ry="13" transform="rotate(20 478 462)"/>
<ellipse cx="425" cy="458" rx="9" ry="13" transform="rotate(20 425 458)"/>
<ellipse cx="410" cy="405" rx="9" ry="13" transform="rotate(20 410 405)"/>
<ellipse cx="440" cy="335" rx="9" ry="13" transform="rotate(20 440 335)"/>
</g>
<path class="d" d="M262,160 L440,268 M560,330 L815,470"/>
</g>

<!-- SENSOR 47 tile [700,240,1020,453] @4x -->
<g id="sensor" transform="translate(700,240) scale(0.2504)">
<ellipse class="l" cx="640" cy="66" rx="11" ry="21" transform="rotate(-30 640 66)"/>
<path class="l" d="M632,48 L655,45 L690,95 L770,185 M628,84 L650,100 L700,140 L762,200 M690,95 L680,110 M700,100 L745,150 L760,180"/>
<path class="l" d="M770,185 Q815,240 840,300 Q852,350 852,470 M762,200 Q800,245 826,300 Q838,350 838,470"/>
<path class="l" style="stroke-width:1.8" d="M830,475 H858 V605 H830 Z M824,520 H864 V545 H824 Z"/>
<path class="t" d="M830,490 H858 M830,505 H858 M830,560 H858 M830,575 H858 M830,590 H858 M844,475 V605"/>
<path class="dd" d="M842,620 V785"/>
<path class="t" d="M745,345 L835,320"/>
<path class="l" d="M348,655 L285,752"/>
</g>

<!-- FLYWHEEL 46 real coords -->
<g id="flywheel">
<g transform="rotate(29.5 1081.7 643.4)">
<ellipse class="l" cx="1081.700" cy="643.400" rx="61.500" ry="104"/>
<ellipse class="l" cx="1081.400" cy="643" rx="35.700" ry="63"/>
<ellipse class="t" cx="1081" cy="643" rx="32.500" ry="58.500"/>
<ellipse class="t" cx="1079.500" cy="643" rx="26.500" ry="49"/>
<ellipse class="l" cx="1077.500" cy="639.800" rx="6.300" ry="10.300"/>
</g>
<g class="l">
<ellipse cx="1085.800" cy="619.100" rx="1.800" ry="2.600" transform="rotate(29 1085.8 619.1)"/>
<ellipse cx="1093" cy="626.900" rx="1.800" ry="2.600" transform="rotate(29 1093 626.9)"/>
<ellipse cx="1089.700" cy="643.700" rx="1.800" ry="2.600" transform="rotate(29 1089.7 643.7)"/>
<ellipse cx="1077.500" cy="657.900" rx="1.800" ry="2.600" transform="rotate(29 1077.5 657.9)"/>
<ellipse cx="1065.100" cy="657.900" rx="1.800" ry="2.600" transform="rotate(29 1065.1 657.9)"/>
<ellipse cx="1062" cy="645" rx="1.800" ry="2.600" transform="rotate(29 1062 645)"/>
<ellipse cx="1069.800" cy="627.700" rx="1.800" ry="2.600" transform="rotate(29 1069.8 627.7)"/>
<ellipse cx="1065.900" cy="578.300" rx="1.600" ry="2.400" transform="rotate(29 1065.9 578.3)"/>
<ellipse cx="1149.400" cy="584.300" rx="1.600" ry="2.400" transform="rotate(29 1149.4 584.3)"/>
<ellipse cx="1019.400" cy="701.800" rx="1.600" ry="2.400" transform="rotate(29 1019.4 701.8)"/>
<ellipse cx="1103.400" cy="708.300" rx="1.600" ry="2.400" transform="rotate(29 1103.4 708.3)"/>
</g>
<path class="d" d="M1089,620.400 L1168,664.400"/>
</g>

<!-- FLYWHEEL 46 + bolts tile [990,380,1280,780] zoom 617x851 -->
<g id="fly" transform="translate(990,380) scale(0.470)">
<path class="l" d="M45,782 L75,745"/>
<path class="d" d="M405,620 L442,640"/>
<!-- washer 14 -->
<ellipse class="l" cx="390" cy="612" rx="10" ry="16" transform="rotate(15 390 612)"/><ellipse class="l" cx="394" cy="613" rx="5" ry="9" transform="rotate(15 394 613)"/>
<path class="l" d="M440,548 L400,600 M535,612 L498,665"/>
<!-- bolt 15 -->
<path class="l" d="M447,645 L488,665 L484,682 L442,660 Z"/><path class="t" d="M455,649 l-5,16 M463,653 l-5,16 M471,657 l-5,16 M479,661 l-5,16"/>
<ellipse class="l" cx="493" cy="677" rx="9" ry="13" transform="rotate(15 493 677)"/><path class="l" d="M488,665 L500,668 M484,682 L492,690"/>
<!-- nut 17 a -->
<ellipse class="k" cx="115" cy="133" rx="10" ry="13" transform="rotate(20 115 133)"/><ellipse cx="117" cy="134" rx="2.500" ry="4" fill="#fff"/>
<path class="l" d="M160,75 L122,125 M265,140 L232,190 M290,225 L250,272 M410,290 L372,340"/>
<path class="d" d="M85,120 L105,128 M127,140 L178,170 M125,215 L235,275 M258,290 L305,316"/>
<!-- bolt 18 -->
<path class="l" d="M182,170 L218,188 L214,204 L177,186 Z"/><path class="t" d="M190,174 l-5,16 M198,178 l-5,16 M206,182 l-5,16"/>
<ellipse class="l" cx="225" cy="200" rx="10" ry="13" transform="rotate(15 225 200)"/><path class="l" d="M218,188 L232,190 M214,204 L222,212"/>
<!-- nut 17 b -->
<ellipse class="k" cx="245" cy="282" rx="10" ry="13" transform="rotate(20 245 282)"/><ellipse cx="247" cy="283" rx="2.500" ry="4" fill="#fff"/>
<!-- bolt 16 -->
<path class="l" d="M308,316 L360,340 L356,356 L303,332 Z"/><path class="t" d="M316,320 l-5,16 M324,324 l-5,16 M332,328 l-5,16 M340,331 l-5,16 M348,335 l-5,16"/>
<ellipse class="l" cx="366" cy="351" rx="10" ry="13" transform="rotate(15 366 351)"/><path class="l" d="M360,340 L373,341 M356,356 L363,363"/>

</g>


<!-- STARTER 49 tile [520,590,840,803] @4x -->
<g id="starter" transform="translate(520,590) scale(0.2504)">
<path class="w" d="M460,150 Q380,180 360,240 Q345,300 375,345 L655,512 L700,545 Q760,550 800,520 Q840,470 835,410 Q825,355 790,328 L500,160 Z"/>
<path class="l" d="M460,150 L478,120 L502,130 L498,160 M478,120 L470,150 M490,130 L486,158"/>
<path class="l" d="M375,345 L352,335 L345,350 L385,372 L392,356 M395,345 L600,462 M490,185 L760,322 M520,175 L770,305 L785,310"/>
<path class="l" style="stroke-width:2.4" d="M500,282 Q505,235 575,225 M500,282 L502,325 Q520,350 545,360 M690,380 Q700,345 790,328 M690,380 Q665,440 688,502"/>
<path class="l" d="M515,285 Q520,250 575,240 L605,250 L600,270 L560,285 L545,310 L520,320 Z M560,285 Q590,275 610,295 Q640,320 625,350 L600,362 L575,345 M545,310 L575,345 M580,300 L600,362"/>
<path class="l" style="stroke-width:2" d="M515,340 L540,350 L560,362 M630,312 L650,322 L645,340"/>
<path class="l" d="M660,300 L700,285 L720,295 L715,330 L680,345 L665,335 Z M680,345 V310 L720,295 M700,285 V300"/>
<circle class="t" cx="715" cy="312" r="8"/><path class="l" d="M366,257 L497,336"/>
<path class="l" d="M540,375 L610,410 L605,430 L655,455 M530,440 L545,420 L600,450 M610,410 L640,395 M600,462 L620,440 L650,450 L645,480"/>
<circle class="t" cx="630" cy="460" r="9"/>
<path class="l" d="M705,385 Q720,355 790,340 M705,385 Q690,440 705,495 M740,300 L760,290 L785,305 M755,292 V305"/>
<path class="t" d="M720,480 Q715,420 760,370"/>
<ellipse class="l" cx="815" cy="470" rx="11" ry="30" transform="rotate(12 815 470)"/><ellipse class="t" cx="808" cy="475" rx="7" ry="20" transform="rotate(12 808 475)"/>
<path class="l" d="M650,518 Q642,560 680,566 Q715,562 716,535"/><circle class="k" cx="660" cy="515" r="7"/><path class="l" d="M690,545 l14,-10 M695,535 l8,16"/>
<!-- bolt 19 -->
<path class="l" d="M80,425 L98,418 L172,462 Q178,475 168,484 L95,450 Z M80,425 Q72,438 80,452 L96,462 L108,446"/>
<path class="t" d="M112,430 l-8,24 M124,437 l-8,24 M136,444 l-8,24 M148,451 l-8,24 M160,458 l-8,24"/>
<path class="l" d="M55,540 L105,475 M255,660 L306,585 M620,665 L668,568"/>
<ellipse class="l" cx="318" cy="565" rx="13" ry="16"/><ellipse class="t" cx="320" cy="567" rx="6" ry="8"/>
<path class="d" d="M178,486 L300,556 M335,575 L405,615 L605,502 M716,560 L995,720"/>
<path class="dd" d="M997,0 V720"/>
</g>

<!-- HOSE 13 tile [260,630,580,843] @4x -->
<g id="hose13" transform="translate(260,630) scale(0.2504)">
<ellipse class="l" cx="753" cy="73" rx="27" ry="12"/><ellipse class="t" cx="753" cy="74" rx="12" ry="5"/>
<path class="l" d="M726,75 V235 Q722,310 690,380 Q650,440 570,495 L340,630 L215,720 L235,748 L360,670 L560,555 Q650,500 700,450 Q760,380 780,250 V75 M340,630 Q335,655 360,670"/>
<path class="l" style="stroke-width:2.2" d="M228,722 L300,672 M238,738 L312,688 M250,705 l14,24 M265,695 l14,24 M280,685 l14,24 M295,675 l14,24 M315,660 l16,26"/>
<path class="t" d="M222,715 l16,28 M236,708 l14,24"/>
<!-- cap -->
<ellipse class="l" cx="100" cy="800" rx="20" ry="31" transform="rotate(-28 100 800)"/>
<path class="l" d="M88,772 L128,747 Q160,760 160,800 L118,828"/>
<path class="d" d="M165,760 L212,736"/>
<path class="t" d="M190,525 L385,600"/><path class="dd" d="M185,530 L125,745"/>
</g>

<!-- REMOVE/66/9-12 tile [290,440,610,653] @4x -->
<g id="mid" transform="translate(290,440) scale(0.2504)">
<!-- bracket 66 -->
<path class="l" d="M765,40 L800,62 V215 M765,40 V100 L800,130 M800,215 L832,240"/>
<path class="l" style="stroke-width:1.6" d="M800,148 H722 M800,213 H722"/>
<path class="l" d="M722,148 V158 H680 M722,213 L715,205 H680"/>
<path class="k" d="M778,90 l12,0 l-5,-12 z"/>
<path class="d" d="M600,186 L765,95 M805,70 L932,0"/>
<!-- screw -->
<ellipse class="l" cx="520" cy="232" rx="11" ry="17" transform="rotate(-28 520 232)"/>
<path class="l" d="M528,218 L590,188 Q600,196 596,208 L535,245"/>
<path class="t" d="M545,210 l7,24 M556,205 l7,24 M567,200 l7,22 M578,195 l6,20"/>
<!-- arrow -->
<path class="k" d="M518,250 L438,300 L463,325 Z"/>
<path class="l" d="M410,356 L452,314"/>
<!-- washer 9 -->
<ellipse class="l" cx="950" cy="416" rx="15" ry="22" transform="rotate(-28 950 416)"/><ellipse class="t" cx="954" cy="420" rx="8" ry="13" transform="rotate(-28 954 420)"/>
<path class="l" d="M970,440 L1030,495"/>
<!-- nut 10 -->
<path class="l" d="M783,495 L795,478 L818,475 L836,492 L828,515 L805,525 L790,515 Z M795,478 L808,495 L805,525 M808,495 L836,492"/>
<ellipse class="t" cx="800" cy="500" rx="9" ry="13" transform="rotate(-28 800 500)"/>
<path class="l" d="M826,525 L886,582"/>
<!-- elbow 11 -->
<path class="l" d="M600,582 L636,564 L668,578 L638,600 Z M655,568 L675,560 L688,575 L685,592 L665,600 L655,590"/>
<path class="t" d="M665,565 l8,30 M675,562 l8,28"/>
<path class="l" d="M608,622 L650,622 M612,628 V660 H648 V628 M612,640 H648 M630,660 V735 M630,782 V822"/>
<path class="l" d="M665,625 L765,700"/>
<!-- clamp 12 -->
<ellipse class="l" style="stroke-width:2" cx="632" cy="755" rx="36" ry="20"/>
<path class="l" style="stroke-width:2" d="M598,745 Q600,728 625,728 M640,728 L660,735 L650,750 M600,770 Q632,790 664,770"/>
<path class="l" d="M470,695 L590,745"/>
<ellipse class="l" cx="633" cy="832" rx="26" ry="12"/><ellipse class="t" cx="633" cy="833" rx="12" ry="5"/>
<path class="d" d="M692,570 L782,512 M838,485 L932,428 M972,405 L1150,305"/>
</g>

<!-- HOSE 38 tile [0,500,320,713] @4x -->
<g id="hose38" transform="translate(0,500) scale(0.2504)">
<path class="l" d="M595,78 V180 Q592,240 560,290 Q520,335 440,355 Q385,385 358,440 Q340,500 350,560 Q355,580 372,578 Q392,572 392,545 Q384,500 402,462 Q430,420 480,395 Q555,365 600,318 Q635,260 640,190 V78"/>
<ellipse class="t" cx="371" cy="568" rx="15" ry="9"/>
<path class="l" d="M382,610 Q378,632 395,655 Q440,700 510,716 Q580,725 650,700 L765,642 Q772,625 768,612 L740,604 L670,640 Q610,672 550,672 Q485,660 445,632 L420,598 Q400,590 382,610 Z M740,604 Q735,625 765,642"/>
<ellipse class="t" cx="402" cy="602" rx="14" ry="8" transform="rotate(20 402 602)"/>
<path class="l" d="M765,612 L872,548"/>
<path class="k" d="M986,485 L850,524 L906,562 Z"/>
<path class="t" d="M245,685 L335,508"/><path class="dd" d="M270,685 L395,675"/>
</g>

<!-- LEFT SMALL PARTS tile [0,340,320,553] @4x -->
<g id="leftparts" transform="translate(0,340) scale(0.2504)">
<path class="l" d="M135,140 L213,226 M275,45 L350,140 M240,378 L340,372 M556,290 L578,250 M435,495 L572,456 M435,495 L612,490 M440,640 L595,610 M822,695 L880,775 M950,620 L1005,700"/>
<!-- bolt 35 -->
<ellipse class="l" cx="192" cy="252" rx="17" ry="20" transform="rotate(-25 192 252)"/>
<path class="l" d="M203,234 L262,212 Q272,222 268,238 L210,268"/>
<path class="t" d="M222,228 l6,30 M234,223 l6,30 M246,219 l6,30 M256,215 l6,28"/>
<!-- washer 20 -->
<ellipse class="l" cx="360" cy="156" rx="9" ry="13" transform="rotate(-25 360 156)"/><ellipse class="t" cx="366" cy="160" rx="8" ry="12" transform="rotate(-25 366 160)"/>
<path class="d" d="M275,212 L345,170 M378,148 L500,86 M472,148 L520,125"/>
<path class="dd" d="M472,150 V305 L440,322"/>
<!-- sensor 22 -->
<path class="l" d="M345,368 L362,350 L380,345 L395,330 L430,315 Q445,320 440,335 L420,350 L410,368 L385,385 L360,385 Z M380,345 L385,385 M395,330 L410,368 M340,372 L355,378"/>
<path class="t" d="M400,330 l8,28 M410,326 l8,26 M420,322 l6,22"/>
<!-- clip 63 -->
<path class="l" d="M560,210 Q558,232 576,236 Q594,232 592,210 M562,228 Q576,240 590,228 M566,240 Q578,250 588,240"/>
<!-- nuts 33 -->
<path class="l" d="M570,445 L585,430 L605,432 L612,450 L598,468 L578,466 Z M585,430 L590,450 L578,466 M590,450 L612,450"/>
<path class="l" d="M618,468 L630,455 L648,456 L655,472 L645,488 L628,490 Z M630,455 L636,472 L628,490 M636,472 L655,472"/>
<path class="d" d="M612,436 L700,386 M655,462 L770,420"/>
<!-- elbow 39 -->
<path class="l" d="M595,595 Q598,578 618,580 L640,575 L655,590 L645,605 L630,610 L632,625 L600,625 L598,610 Z M602,630 h28 v14 h-28 Z M640,575 L648,598"/>
<path class="t" d="M604,636 h24 M604,641 h24"/>
<path class="d" d="M655,585 L716,548"/>
<!-- hose top -->
<ellipse class="l" cx="617" cy="716" rx="22" ry="10"/><ellipse class="t" cx="617" cy="717" rx="12" ry="5"/>

<!-- nut 25 -->
<path class="l" d="M782,668 L795,652 L815,655 L828,675 L815,695 L795,692 Z M795,652 L800,675 L795,692 M800,675 L828,675"/>
<!-- washer 20 -->
<ellipse class="l" cx="938" cy="598" rx="12" ry="16" transform="rotate(-25 938 598)"/><ellipse class="t" cx="938" cy="598" rx="6" ry="9" transform="rotate(-25 938 598)"/>
<path class="d" d="M832,660 L922,608 M955,588 L1098,510"/>
</g>

<!-- MANIFOLD 52 tile [100,270,420,483] @4x -->
<g id="manifold" transform="translate(100,270) scale(0.2504)">
<path class="l" d="M190,140 L262,212"/>
<!-- flange bar -->
<path class="l" style="stroke-width:1.8" d="M300,212 L985,602"/>
<path class="l" d="M318,228 L960,598"/>
<path class="l" d="M305,252 L905,600"/>
<path class="t" d="M330,270 L870,585"/>
<!-- left end boss -->
<path class="l" d="M262,215 Q280,205 300,212 M290,222 Q310,240 300,262 Q290,280 270,270 M240,232 Q250,214 272,216"/>
<circle class="t" cx="300" cy="243" r="12"/>
<!-- bosses on flange -->
<path class="l" d="M455,322 Q445,350 470,365 Q492,365 495,345"/><ellipse class="t" cx="476" cy="345" rx="9" ry="13"/>
<path class="l" d="M632,425 Q625,455 650,468 Q672,468 672,448"/><ellipse class="t" cx="652" cy="445" rx="9" ry="13"/>
<path class="l" d="M808,525 Q800,552 825,565 Q846,566 848,548"/><ellipse class="t" cx="828" cy="545" rx="9" ry="13"/>
<!-- right end -->
<path class="l" d="M985,602 Q1005,615 1008,640 L1010,680 L1090,742 Q1100,750 1098,770 L1092,812 Q1085,835 1060,838 L1040,828 L905,742 L885,728"/>
<path class="l" d="M940,610 Q930,640 955,655 Q985,660 990,630"/><ellipse class="t" cx="965" cy="630" rx="10" ry="14"/>
<path class="l" d="M955,655 L960,700 L1045,765 L1040,828 M1010,680 L990,690 L960,700"/>
<circle class="t" cx="1060" cy="745" r="7"/><circle class="t" cx="1055" cy="805" r="7"/><circle class="t" cx="915" cy="735" r="6"/>
<!-- thermostat neck -->
<ellipse class="l" cx="195" cy="234" rx="43" ry="23"/>
<ellipse class="l" cx="196" cy="238" rx="33" ry="15"/>
<path class="l" style="stroke-width:2" d="M172,248 L215,250"/>
<path class="l" d="M152,236 V335 M164,250 V330 M238,240 V300 M152,335 Q190,360 240,340"/>
<ellipse class="l" cx="262" cy="234" rx="24" ry="13"/>
<!-- box -->
<path class="l" d="M105,362 Q100,355 112,348 L150,325 M105,362 L108,410 Q110,425 150,442 L165,440 L270,385 L268,372 M150,325 L165,335 M112,348 L160,372 L160,440 M160,372 L250,330 L300,300 M180,360 L230,385 L268,372 M215,320 Q240,330 245,300 L240,290"/>
<ellipse class="l" cx="132" cy="393" rx="15" ry="11" transform="rotate(35 132 393)"/>
<path class="l" d="M235,372 Q255,362 268,372"/>
<!-- runners -->
<path class="l" d="M270,385 Q262,470 300,580 M300,262 Q330,300 320,330 Q310,370 345,500 L360,545"/>
<path class="dd" d="M320,330 Q350,290 395,300 Q430,320 432,380 M355,380 Q395,370 420,400 M345,330 Q385,320 410,345"/>
<path class="l" d="M432,380 L436,400 M415,445 L455,405 M420,470 L470,425 M470,425 Q520,390 565,410 Q610,440 610,490"/>
<path class="t" d="M425,395 L445,400 M428,405 L448,412 M426,418 L446,424 M422,430 L440,436"/>
<path class="l" d="M380,470 L420,490 M480,470 Q520,430 560,425 M500,500 Q540,455 590,455 M610,490 Q600,510 570,525"/>
<path class="dd" d="M555,405 L600,390 Q650,400 670,470 M585,545 Q650,500 720,505 Q780,530 790,600"/>
<path class="t" d="M600,510 L640,500 M605,520 L645,512 M612,530 L650,522"/>
<path class="l" d="M560,560 Q640,520 720,510 M570,575 L760,530 M720,505 L715,495 M770,610 Q790,590 800,600"/>
<path class="l" d="M545,590 Q640,610 790,600 Q880,600 940,640 Q960,660 955,700"/>
<path class="l" d="M600,625 Q700,650 820,640 Q900,640 945,690"/>
<path class="dd" d="M445,720 L640,730 L760,745 Q850,745 900,720 M560,705 L620,735 L700,780 L590,835 M560,705 L760,640 L770,680 M300,830 L430,770"/>
<!-- collector outlet -->
<ellipse class="l" cx="437" cy="556" rx="62" ry="42"/>
<ellipse class="l" cx="437" cy="560" rx="45" ry="30"/>
<path class="dd" d="M405,560 Q437,535 470,560"/>
<path class="l" d="M375,560 L345,550 L340,585 L375,600 M500,560 L535,548 L545,590 L500,600 M345,550 L350,540 M535,548 L540,538"/>
<path class="t" d="M340,545 h12 v12 h-12z M530,545 h12 v12 h-12z"/>
<path class="l" d="M375,600 Q437,620 500,600 M400,612 L405,640 L470,640 L472,612 M420,600 v20 M455,600 v20"/>
<!-- lower flange -->
<path class="l" d="M295,630 Q290,650 305,662 L405,722 Q430,735 450,728 L460,715 L452,680 M295,630 Q300,618 318,620 L420,680 Q440,690 445,720 M318,620 L340,585 M452,680 L545,590 M405,640 L380,660 M470,640 L452,680"/>
<ellipse class="t" cx="318" cy="645" rx="9" ry="12" transform="rotate(-30 318 645)"/>
<ellipse class="t" cx="428" cy="708" rx="9" ry="12" transform="rotate(-30 428 708)"/>
<path class="t" d="M330,640 L415,690 M340,632 L425,682"/>
</g>

<!-- GASKET 53 (real coords) -->
<g id="gasket">
<path class="l" style="stroke-width:1.6" d="M231,287 L242,289 L411,385"/>
<path class="l" d="M231,287 Q227,289 227.500,293 L227.500,307 L232.500,320 L236,329 Q239,334 244,332.500 Q248,329 250,330 L256,336 L262.500,342.500 Q267,347 272.500,345 L280,337.500 Q283,331 286,331 Q290,331 292.500,335 L297.500,347.500 L302.500,362.500 Q306,371 312.500,371 Q318,372 320,369 L325,360 Q328,356 331,357.500 Q334,358 336,362.500 L341,377.500 L346,390 Q350,396 355,395 Q361,393 365,386 Q368,381 371,382.500 Q375,383 377.500,387.500 L382.500,400 L387.500,412.500 Q391,420 395,420 L405.500,421.600 L423.750,435.600 L434,440 Q438,440 438,436 L438,421 Q437,418 428,412 L418,406 L413,390 L411,385"/>
<g class="l">
<ellipse cx="238.500" cy="311" rx="11" ry="3.200" transform="rotate(52 238.5 311)"/>
<ellipse cx="264" cy="320" rx="12.500" ry="7" transform="rotate(42 264 320)"/>
<ellipse cx="308.500" cy="344" rx="12.500" ry="7" transform="rotate(42 308.5 344)"/>
<ellipse cx="352.500" cy="370" rx="12.500" ry="7" transform="rotate(42 352.5 370)"/>
<ellipse cx="396" cy="394" rx="12.500" ry="7" transform="rotate(42 396 394)"/>
</g>
<g class="t">
<circle cx="242" cy="293" r="2"/><circle cx="239.500" cy="326" r="2"/><circle cx="263.750" cy="339.500" r="2"/><circle cx="285.500" cy="317" r="2"/><circle cx="308" cy="364.500" r="2"/><circle cx="330.500" cy="343" r="2"/><circle cx="352.500" cy="390.500" r="2"/><circle cx="374.500" cy="368.750" r="2"/><circle cx="396.250" cy="415" r="2"/><circle cx="433.600" cy="436" r="2"/>
</g>
<path class="l" d="M212,271 L229,288"/><path class="d" d="M315,401 L375,365.500"/>
</g>
</g>
<g id="wm" style="mix-blend-mode:multiply">
<text class="wm" transform="translate(326.55,471.6) scale(0.8161,0.946)" x="0" y="0">P</text>
<text class="wm" transform="translate(408.50,471.6) scale(0.9000,0.946)" x="0" y="0">a</text>
<text class="wm" transform="translate(483.93,471.6) scale(1.0164,0.946)" x="0" y="0">r</text>
<text class="wm" transform="translate(557.33,471.6) scale(0.8367,0.946)" x="0" y="0">t</text>
<text class="wm" transform="translate(604.27,471.6) scale(0.7451,0.946)" x="0" y="0">s</text>
<text class="wm" transform="translate(651.31,471.6) scale(0.8469,0.946)" x="0" y="0">T</text>
<text class="wm" transform="translate(740.18,471.6) scale(0.7049,0.946)" x="0" y="0">r</text>
<text class="wm" transform="translate(789.34,471.6) scale(0.9322,0.946)" x="0" y="0">e</text>
<text class="wm" transform="translate(860.08,471.6) scale(0.9831,0.946)" x="0" y="0">e</text>
<text class="tm" x="924" y="390.5">TM</text>
</g>
<!-- LABELS -->
<g id="labels">
<g transform="scale(1.055,1)">
<text class="lbl" x="405.69" y="35">1</text>
<text class="lbl" x="598.58" y="43.800">67</text>
<text class="lbl" x="636.97" y="33">"A"</text>
<text class="lbl" x="698.58" y="108">69</text>
<text class="lbl" x="226.54" y="112">40</text>
<text class="lbl" x="258.77" y="162">64</text>
<text class="lbl" x="172.51" y="265.500">53</text>
<text class="lbl" x="111.37" y="298">52</text>
<text class="lbl" x="42.18" y="345">20</text>
<text class="lbl" x="4.74" y="368">35</text>
<text class="lbl" x="23.70" y="448">22</text>
<text class="lbl" x="110.90" y="437.500">63</text>
<text class="lbl" x="69.19" y="478">33</text>
<text class="lbl" x="69.19" y="512">39</text>
<text class="lbl" x="200.47" y="558.500">25</text>
<text class="lbl" x="233.65" y="537.500">20</text>
<text class="lbl" x="472.51" y="522">66</text>
<text class="lbl" x="520.85" y="588">9</text>
<text class="lbl" x="481.52" y="608.500">10</text>
<text class="lbl" x="460.66" y="637.500">11</text>
<text class="lbl" x="351.66" y="614.500">12</text>
<text class="lbl" x="241.23" y="612.500">TO</text>
<text class="lbl" x="243.60" y="643.500">"A"</text>
<text class="lbl" x="23.22" y="691">38</text>
<text class="lbl" x="264.45" y="751">13</text>
<text class="lbl" x="475.83" y="749.500">19</text>
<text class="lbl" x="521.80" y="780.500">20</text>
<text class="lbl" x="621.33" y="780">49</text>
<text class="lbl" x="803.32" y="744.600">48</text>
<text class="lbl" x="925.59" y="774">46</text>
<text class="lbl" x="805.21" y="339">47</text>
<text class="lbl" x="745.50" y="397">54</text>
<text class="lbl" x="1005.69" y="412">17</text>
<text class="lbl" x="1051.66" y="441">18</text>
<text class="lbl" x="1063.98" y="481.300">17</text>
<text class="lbl" x="1117.06" y="512.200">16</text>
<text class="lbl" x="1128.44" y="635">14</text>
<text class="lbl" x="1171.09" y="664.700">15</text>
</g>
<text class="note" x="297" y="538" textLength="90.500" lengthAdjust="spacingAndGlyphs">REMOVE</text>
<text class="note" x="294.500" y="560.500" textLength="118.500" lengthAdjust="spacingAndGlyphs">&amp; REPLACE</text>
</g>
</svg>
</body></html>
